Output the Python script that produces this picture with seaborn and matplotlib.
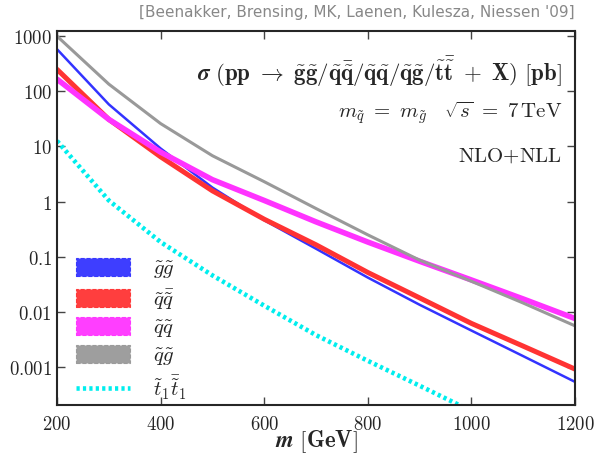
import numpy as np
import pandas as pd
import matplotlib
matplotlib.use("Agg")
import matplotlib.pyplot as plt
from matplotlib.patches import Patch
from matplotlib.lines import Line2D
import seaborn as sns

# sparticle mass [GeV]
mass = [200, 300, 400, 500, 600, 700, 800, 900, 1000, 1100, 1200]
# cross sections [pb]
xs_gg = [580, 58, 9.2, 1.8, 0.46, 0.14, 0.042, 0.0135, 0.0046, 0.00158, 0.00054]
xs_qqbar = [250, 31, 6.5, 1.57, 0.48, 0.165, 0.052, 0.018, 0.0062, 0.0024, 0.00092]
xs_qq = [166, 31, 7.9, 2.5, 1.05, 0.43, 0.185, 0.083, 0.038, 0.0172, 0.0076]
xs_qg = [1000, 135, 26, 6.8, 2.3, 0.75, 0.25, 0.087, 0.036, 0.0145, 0.0056]
mass_stop = [200, 300, 400, 500, 600, 700, 800, 900, 1000]
xs_stop = [12.6, 1.05, 0.185, 0.046, 0.013, 0.0038, 0.0013, 0.00046, 0.00016]

x_ticks = [200, 400, 600, 800, 1000, 1200]
y_ticks = [0.001, 0.01, 0.1, 1, 10, 100, 1000]
y_ticklabels = ["0.001", "0.01", "0.1", "1", "10", "100", "1000"]

sns.set_style("ticks")
plt.rcParams["mathtext.fontset"] = "cm"
plt.rcParams["font.family"] = ["DejaVu Serif"]

fig = plt.figure(figsize=(5.94, 4.6), dpi=100)
ax = fig.add_axes([0.096, 0.117, 0.872, 0.813])

curves = [
    (xs_gg, "#3333ff", 1.8, r"$\tilde{g}\tilde{g}$"),
    (xs_qqbar, "#ff3333", 3.6, r"$\tilde{q}\bar{\tilde{q}}$"),
    (xs_qq, "#ff33ff", 4.0, r"$\tilde{q}\tilde{q}$"),
    (xs_qg, "#999999", 2.2, r"$\tilde{q}\tilde{g}$"),
]
for vals, col, lw, lab in curves:
    df = pd.DataFrame({"m": mass, "xs": vals})
    sns.lineplot(data=df, x="m", y="xs", color=col, linewidth=lw, ax=ax)

df_stop = pd.DataFrame({"m": mass_stop, "xs": xs_stop})
sns.lineplot(data=df_stop, x="m", y="xs", color="#00eeee", linewidth=3.3,
             linestyle=(0, (0.7, 0.7)), ax=ax)

ax.set_yscale("log")
ax.set_xlim(200, 1200)
ax.set_ylim(2.04e-4, 1230)
ax.set_xticks(x_ticks)
ax.set_xticklabels([f"${t}$" for t in x_ticks])
ax.set_yticks(y_ticks)
ax.set_yticklabels([f"${t}$" for t in y_ticklabels])
ax.minorticks_off()
ax.tick_params(direction="in", top=True, right=True, length=6, width=1,
               labelsize=13.5, color="#444444")
ax.tick_params(axis="x", pad=7)
for s in ax.spines.values():
    s.set_linewidth(1.5)
ax.set_xlabel(r"$\boldsymbol{m}\ \mathbf{[GeV]}$", fontsize=16.5, labelpad=-4)
ax.set_ylabel("")

ax.text(0.975, 0.895,
        r"$\boldsymbol{\sigma}\ \mathbf{(pp\ \rightarrow\ \tilde{g}\tilde{g}/\tilde{q}\bar{\tilde{q}}/\tilde{q}\tilde{q}/\tilde{q}\tilde{g}/\tilde{t}\bar{\tilde{t}}\ +\ X)\ [pb]}$",
        transform=ax.transAxes, ha="right", va="center", fontsize=16.5)
ax.text(0.975, 0.785, r"$m_{\tilde{q}}\ =\ m_{\tilde{g}}\ \ \ \sqrt{s}\ =\ 7\,\mathrm{TeV}$",
        transform=ax.transAxes, ha="right", va="center", fontsize=15)
ax.text(0.975, 0.67, r"$\mathrm{NLO{+}NLL}$",
        transform=ax.transAxes, ha="right", va="center", fontsize=15)

fig.text(0.968, 0.972, "[Beenakker, Brensing, MK, Laenen, Kulesza, Niessen '09]",
         ha="right", va="center", fontsize=11, color="#888888",
         family=["DejaVu Sans"])

handles = [Patch(facecolor=c, edgecolor=c, linestyle="--", linewidth=0.8, alpha=0.95)
           for _, c, _, _ in curves]
handles.append(Line2D([0], [0], color="#00eeee", linewidth=3.3, linestyle=(0, (0.7, 0.7))))
labels = [lab for _, _, _, lab in curves] + [r"$\tilde{t}_1\bar{\tilde{t}}_1$"]
ax.legend(handles, labels, loc="lower left", bbox_to_anchor=(0.0, -0.04),
          frameon=False, fontsize=15, handlelength=2.6, handleheight=0.95,
          labelspacing=0.28, handletextpad=1.1)

fig.savefig("out.png", dpi=100)
